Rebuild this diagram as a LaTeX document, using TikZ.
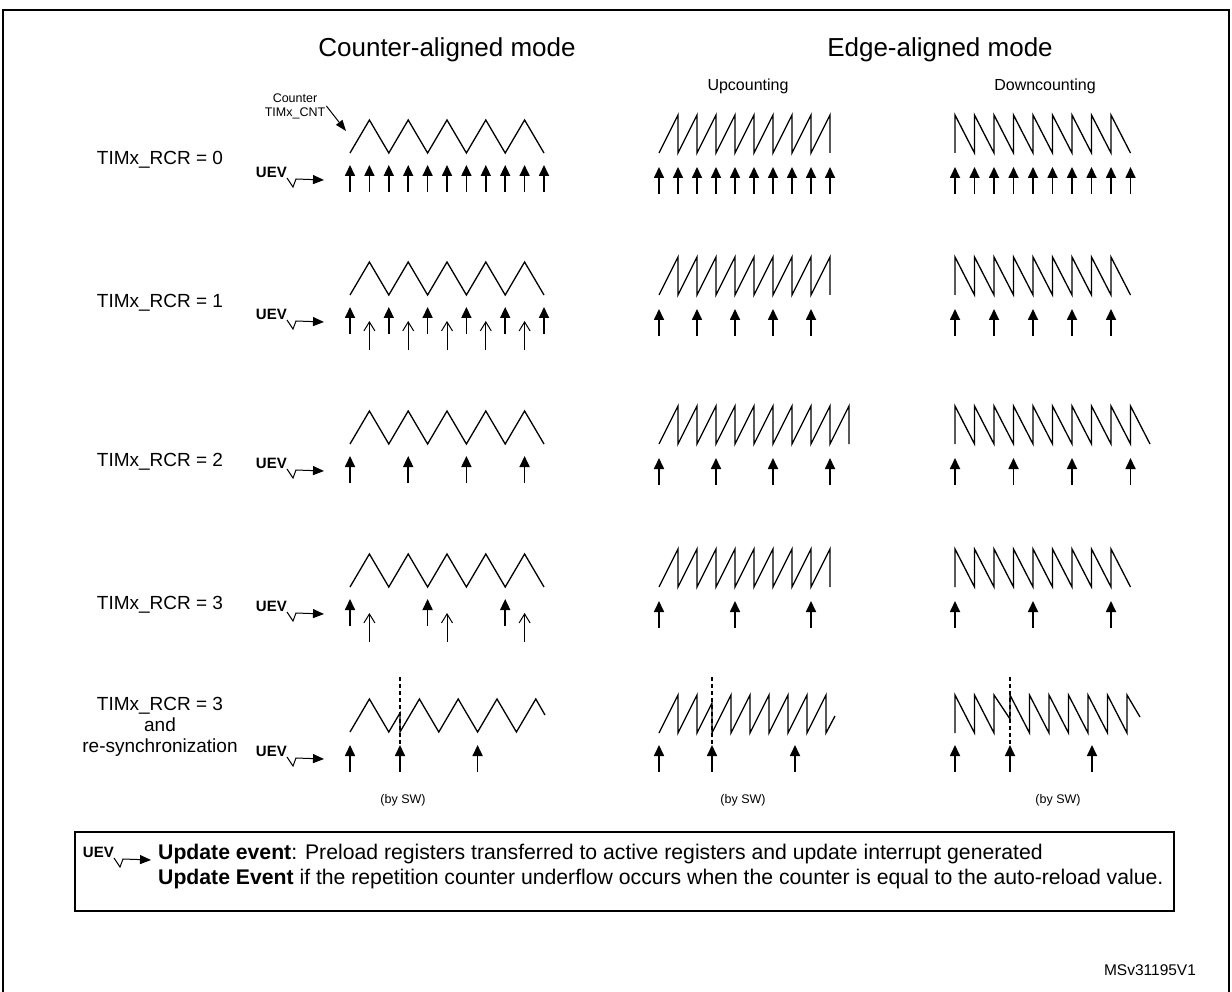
\documentclass[tikz,border=0pt]{standalone}
\usepackage{fontspec}
\setmainfont{Liberation Sans}
\usetikzlibrary{arrows.meta}

\tikzset{
  wave/.style={line width=1.3pt},
  uev/.style={line width=1.7pt, -{Triangle[width=10pt,length=11pt]}},
  swarr/.style={line width=1pt, -{Straight Barb[width=11pt,length=9pt]}},
  sync/.style={line width=1.1pt, dash pattern=on 4pt off 3pt},
  lbl/.style={font=\fontsize{19}{21}\selectfont, align=center},
  small/.style={font=\fontsize{12.5}{14}\selectfont},
  uevsym/.pic={
    \node[font=\bfseries\fontsize{15}{15}\selectfont, anchor=south east, inner sep=0pt] (-txt) at (0,0) {UEV};
    \draw[line width=1pt, -{Triangle[width=9pt,length=11pt]}] (-txt.south east) -- (6,9) -- (9,1) -- (37,2);
  }
}

\begin{document}
\begin{tikzpicture}[x=1pt, y=-1pt]
  \useasboundingbox (0,0) rectangle (1232,992);
  \draw[line width=2pt] (3,1000) -- (3,10) -- (1229,10) -- (1229,1000);

  % titles
  \node[font=\fontsize{26}{30}\selectfont] (ttlca) at (447,50) {Counter-aligned mode};
  \node[font=\fontsize{26}{30}\selectfont] (ttlea) at (940,50) {Edge-aligned mode};
  \node[font=\fontsize{16}{18}\selectfont] (ttlup) at (748,86) {Upcounting};
  \node[font=\fontsize{16}{18}\selectfont] (ttldn) at (1045,86) {Downcounting};
  \node[small, align=center, inner sep=1pt] (cnt) at (295,106) {Counter\\TIMx\_CNT};
  \coordinate (cntend) at (346,131);
  \draw[line width=1pt, -{Triangle[width=8pt,length=11pt]}] (cnt.east) -- (cntend);

  % row labels
  \node[lbl] (rcr0) at (160,160) {TIMx\_RCR = 0};
  \node[lbl] (rcr1) at (160,303) {TIMx\_RCR = 1};
  \node[lbl] (rcr2) at (160,462) {TIMx\_RCR = 2};
  \node[lbl] (rcr3) at (160,605) {TIMx\_RCR = 3};
  \node[lbl] (rcr4) at (160,727) {TIMx\_RCR = 3\\and\\re-synchronization};

  \foreach \B [count=\r] in {153,295,444,587,732}{
    \pic (uev\r) at (287,\B+25) {uevsym};
  }

  % rows 1 to 4: counter-aligned, upcounting, downcounting
  \foreach \B/\n in {153/9,295/9,444/10,587/9}{
    \draw[wave] (350,\B) \foreach \k in {1,...,10}{ -- ({350+19.4*\k},{\B-33*mod(\k,2)}) };
    \draw[wave] (659,\B) \foreach \k in {1,...,\n}{ -- ({659+19*\k},\B-38) -- ({659+19*\k},\B) };
    \draw[wave] (955,\B) \foreach \k in {1,...,\n}{ -- ({955+19.5*(\k-1)},\B-38) -- ({955+19.5*\k},\B) };
  }

  % RCR = 0
  \foreach \k in {0,...,10} \draw[uev] ({350+19.4*\k},192) -- ({350+19.4*\k},165);
  \foreach \k in {0,...,9}{
    \draw[uev] ({659+19*\k},194) -- ({659+19*\k},167);
    \draw[uev] ({955+19.5*\k},194) -- ({955+19.5*\k},167);
  }

  % RCR = 1
  \foreach \k in {0,2,...,10} \draw[uev] ({350+19.4*\k},334) -- ({350+19.4*\k},307);
  \foreach \k in {1,3,...,9} \draw[swarr] ({350+19.4*\k},350) -- ({350+19.4*\k},321);
  \foreach \k in {0,2,...,8}{
    \draw[uev] ({659+19*\k},336) -- ({659+19*\k},309);
    \draw[uev] ({955+19.5*\k},336) -- ({955+19.5*\k},309);
  }

  % RCR = 2
  \foreach \k in {0,3,6,9}{
    \draw[uev] ({350+19.4*\k},483) -- ({350+19.4*\k},456);
    \draw[uev] ({659+19*\k},485) -- ({659+19*\k},458);
    \draw[uev] ({955+19.5*\k},485) -- ({955+19.5*\k},458);
  }

  % RCR = 3
  \foreach \k in {0,4,8}{
    \draw[uev] ({350+19.4*\k},626) -- ({350+19.4*\k},599);
    \draw[uev] ({659+19*\k},628) -- ({659+19*\k},601);
    \draw[uev] ({955+19.5*\k},628) -- ({955+19.5*\k},601);
  }
  \foreach \k in {1,5,9} \draw[swarr] ({350+19.4*\k},642) -- ({350+19.4*\k},613);

  % RCR = 3 and re-synchronization
  \draw[wave] (350,732) -- (369.4,699) -- (388.8,732) -- (400,713) -- (400,732)
    \foreach \k in {1,...,7}{ -- ({400+19.4*\k},{732-33*mod(\k,2)}) } -- (545,715);
  \draw[wave] (659,733) -- (678,695) -- (678,733) -- (697,695) -- (697,733) -- (712,703) -- (712,733)
    \foreach \k in {1,...,6}{ -- ({712+19*\k},695) -- ({712+19*\k},733) } -- (835,716);
  \draw[wave] (955,733) -- (955,695) -- (974.5,733) -- (974.5,695) -- (994,733) -- (994,695) -- (1010,719) -- (1010,695)
    \foreach \k in {1,...,6}{ -- ({1010+19.5*\k},733) -- ({1010+19.5*\k},695) } -- (1140,717);
  \foreach \x in {400,712,1010} \draw[sync] (\x,677) -- (\x,748);
  \foreach \x in {350,400,477.6,659,712,795,955,1010,1092} \draw[uev] (\x,772) -- (\x,745);
  \node[small] (sw1) at (403,800) {(by SW)};
  \node[small] (sw2) at (743,800) {(by SW)};
  \node[small] (sw3) at (1058,800) {(by SW)};

  % legend
  \draw[line width=1.3pt] (75,832) rectangle (1174,911);
  \pic (uevkey) at (114,858) {uevsym};
  \node[font=\fontsize{21.2}{25}\selectfont, anchor=north west, align=left, inner sep=0pt] (key) at (158,844)
    {\textbf{Update event}: Preload registers transferred to active registers and update interrupt generated\\
     \textbf{Update Event} if the repetition counter underflow occurs when the counter is equal to the auto-reload value.};
  \node[font=\fontsize{15.5}{16}\selectfont] (ref) at (1150,970) {MSv31195V1};
\end{tikzpicture}
\end{document}
